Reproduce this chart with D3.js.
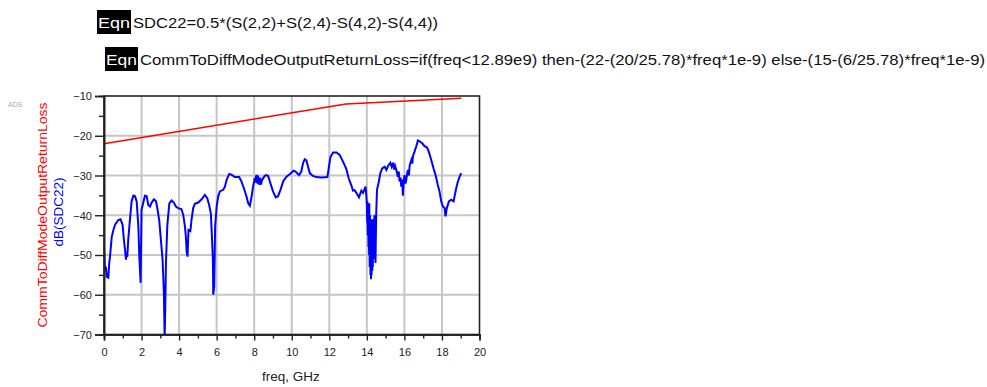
<!DOCTYPE html>
<html>
<head>
<meta charset="utf-8">
<script src="https://cdn.jsdelivr.net/npm/d3@7"></script>
<style>
  html, body { margin: 0; padding: 0; background: #fff; }
  svg { display: block; font-family: "Liberation Sans", Arial, sans-serif; }
</style>
</head>
<body>
<svg id="chart" width="987" height="387"></svg>
<script>
// dB(SDC22) trace as [frequency GHz, magnitude dB]
const sdc22 = [
  [0.00, -47.5], [0.05, -54.0], [0.10, -53.0], [0.15, -55.5], [0.23, -55.7], [0.28, -52.0], [0.32, -50.4],
  [0.41, -45.5], [0.50, -43.7], [0.59, -42.4], [0.76, -41.2], [0.88, -41.0], [0.99, -42.4], [1.06, -46.2],
  [1.12, -48.7], [1.17, -51.2], [1.20, -49.5], [1.24, -50.5], [1.29, -46.2], [1.38, -41.2], [1.47, -36.5],
  [1.56, -35.1], [1.65, -35.2], [1.74, -36.5], [1.83, -42.8], [1.88, -50.4], [1.95, -57.0], [2.00, -38.6],
  [2.06, -37.5], [2.18, -35.1], [2.27, -35.2], [2.36, -37.4], [2.45, -37.8], [2.54, -36.8], [2.66, -36.0],
  [2.77, -36.5], [2.84, -38.2], [2.94, -41.2], [3.03, -46.2], [3.12, -51.2], [3.19, -59.6], [3.23, -71.0],
  [3.26, -64.0], [3.30, -52.0], [3.37, -42.8], [3.42, -40.0], [3.48, -37.0], [3.60, -36.3], [3.72, -36.8],
  [3.83, -37.8], [3.95, -38.2], [4.13, -38.5], [4.22, -39.9], [4.31, -42.8], [4.36, -45.3], [4.40, -49.1],
  [4.45, -50.4], [4.50, -43.7], [4.60, -44.0], [4.66, -41.2], [4.75, -38.2], [4.84, -37.1], [5.02, -36.8],
  [5.20, -36.0], [5.37, -34.9], [5.50, -35.7], [5.60, -37.4], [5.69, -39.5], [5.74, -44.5], [5.80, -51.2],
  [5.82, -60.0], [5.87, -58.0], [5.92, -42.8], [6.00, -37.8], [6.08, -35.3], [6.17, -34.0], [6.35, -33.6],
  [6.44, -32.8], [6.53, -31.1], [6.67, -29.6], [6.79, -29.8], [6.97, -30.4], [7.20, -30.4], [7.32, -31.5],
  [7.45, -33.2], [7.59, -35.3], [7.68, -37.0], [7.77, -37.6], [7.86, -35.3], [7.94, -32.8], [8.03, -30.7],
  [8.06, -31.8], [8.08, -30.6], [8.12, -29.9], [8.15, -31.6], [8.18, -32.0], [8.21, -30.4], [8.25, -30.7],
  [8.28, -32.4], [8.30, -31.2], [8.33, -31.0], [8.37, -32.3], [8.40, -31.4], [8.47, -30.7], [8.55, -30.2],
  [8.62, -29.9], [8.74, -30.1], [8.86, -31.9], [9.00, -34.0], [9.15, -35.5], [9.27, -35.2], [9.40, -33.6],
  [9.54, -31.5], [9.72, -30.3], [9.89, -29.7], [10.10, -28.8], [10.20, -29.0], [10.39, -29.9], [10.51, -29.0],
  [10.60, -26.9], [10.69, -25.9], [10.78, -26.2], [10.87, -27.8], [10.96, -29.4], [11.13, -30.1], [11.31, -30.4],
  [11.58, -30.5], [11.90, -30.4], [11.98, -27.8], [12.06, -25.4], [12.20, -24.2], [12.38, -24.2], [12.55, -24.8],
  [12.73, -26.5], [12.91, -28.4], [13.03, -30.7], [13.17, -32.4], [13.26, -33.8], [13.35, -33.7], [13.47, -34.6],
  [13.58, -35.5], [13.71, -33.8], [13.80, -34.4], [13.93, -32.8], [13.97, -34.9], [14.00, -37.4], [14.02, -42.0],
  [14.03, -36.5], [14.05, -45.0], [14.07, -38.0], [14.09, -48.0], [14.10, -39.0], [14.12, -50.0], [14.13, -37.0],
  [14.15, -53.0], [14.17, -40.0], [14.19, -55.0], [14.20, -42.0], [14.22, -56.1], [14.23, -43.0], [14.25, -55.0],
  [14.27, -41.0], [14.29, -54.0], [14.30, -44.0], [14.32, -53.0], [14.33, -41.0], [14.35, -50.0], [14.37, -43.0],
  [14.39, -51.0], [14.40, -40.0], [14.42, -50.0], [14.44, -42.0], [14.46, -52.0], [14.48, -45.0], [14.50, -39.5],
  [14.54, -33.6], [14.64, -31.5], [14.72, -29.4], [14.82, -28.2], [14.95, -27.8], [15.04, -28.6], [15.13, -27.6],
  [15.25, -26.8], [15.32, -27.8], [15.39, -26.8], [15.45, -28.5], [15.50, -27.5], [15.57, -28.6], [15.65, -30.3],
  [15.70, -29.0], [15.74, -31.5], [15.80, -30.5], [15.83, -32.8], [15.88, -31.0], [15.92, -35.1], [15.96, -31.5],
  [16.01, -29.9], [16.06, -32.0], [16.10, -31.1], [16.15, -29.5], [16.19, -28.6], [16.24, -30.0], [16.28, -27.5],
  [16.37, -26.1], [16.42, -27.0], [16.46, -25.0], [16.54, -24.0], [16.63, -22.7], [16.72, -21.2], [16.81, -21.4],
  [16.95, -21.9], [17.07, -22.6], [17.20, -22.9], [17.30, -24.0], [17.43, -26.1], [17.55, -28.2], [17.66, -29.9],
  [17.78, -32.4], [17.87, -34.0], [17.96, -36.5], [18.05, -37.8], [18.14, -38.2], [18.19, -40.3], [18.26, -38.2],
  [18.37, -36.5], [18.49, -36.1], [18.62, -36.5], [18.67, -35.3], [18.76, -33.2], [18.85, -31.5], [18.94, -30.3],
  [19.03, -29.4]
];

// CommToDiffModeOutputReturnLoss limit line: breakpoints (GHz) and values (dB)
const limitFreq = [0, 12.89, 19.03];
const limitDb = [-22.0, -12.0, -10.57];

// Axis ticks
const xTicks = [0, 2, 4, 6, 8, 10, 12, 14, 16, 18, 20];
const xMinorTicks = [1, 3, 5, 7, 9, 11, 13, 15, 17, 19];
const yTicks = [-10, -20, -30, -40, -50, -60, -70];
const yMinorTicks = [-15, -25, -35, -45, -55, -65];

// Equation blocks above the plot
const eqnLines = [
  "SDC22=0.5*(S(2,2)+S(2,4)-S(4,2)-S(4,4))",
  "CommToDiffModeOutputReturnLoss=if(freq<12.89e9) then-(22-(20/25.78)*freq*1e-9) else-(15-(6/25.78)*freq*1e-9)"
];

const svg = d3.select("#chart");
const plot = { left: 104, top: 96, right: 479.5, bottom: 334.5 };

const x = d3.scaleLinear().domain([0, 20]).range([plot.left, plot.right]);
const y = d3.scaleLinear().domain([-70, -10]).range([plot.bottom, plot.top]);

// Equation boxes
const eqnLayout = [
  { boxX: 97, boxY: 10, boxW: 34, boxH: 24, textX: 133, base: 28, len: 305 },
  { boxX: 105, boxY: 47, boxW: 33, boxH: 24, textX: 140, base: 65, len: 845 }
];
eqnLines.forEach((t, i) => {
  const L = eqnLayout[i];
  svg.append("rect").attr("x", L.boxX).attr("y", L.boxY).attr("width", L.boxW).attr("height", L.boxH).attr("fill", "#000");
  svg.append("text").attr("x", L.boxX + 1).attr("y", L.base).attr("fill", "#fff")
    .attr("font-size", 14).attr("textLength", L.boxW - 2).attr("lengthAdjust", "spacingAndGlyphs").text("Eqn");
  svg.append("text").attr("x", L.textX).attr("y", L.base).attr("fill", "#111")
    .attr("font-size", 14).attr("textLength", L.len).attr("lengthAdjust", "spacingAndGlyphs").text(t);
});

// Tool mark
svg.append("text").attr("x", 8).attr("y", 107).attr("font-size", 7).attr("fill", "#aaa").text("ADS");

// Grid
const grid = svg.append("g").attr("stroke", "#c6c6c6").attr("stroke-width", 2);
grid.selectAll("line.v").data(xTicks.slice(1, -1)).join("line")
  .attr("x1", d => x(d)).attr("x2", d => x(d)).attr("y1", plot.top).attr("y2", plot.bottom);
grid.selectAll("line.h").data(yTicks.slice(1, -1)).join("line")
  .attr("y1", d => y(d)).attr("y2", d => y(d)).attr("x1", plot.left).attr("x2", plot.right);

// Clip region for traces
svg.append("clipPath").attr("id", "plotClip").append("rect")
  .attr("x", plot.left).attr("y", plot.top).attr("width", plot.right - plot.left).attr("height", plot.bottom - plot.top);

const line = d3.line().x(d => x(d[0])).y(d => y(d[1]));

svg.append("path")
  .datum(limitFreq.map((f, i) => [f, limitDb[i]]))
  .attr("d", line).attr("fill", "none").attr("stroke", "#ff0000").attr("stroke-width", 1.6)
  .attr("clip-path", "url(#plotClip)");

svg.append("path")
  .datum(sdc22)
  .attr("d", line).attr("fill", "none").attr("stroke", "#0000ff").attr("stroke-width", 2)
  .attr("stroke-linejoin", "miter").attr("clip-path", "url(#plotClip)");

// Frame
svg.append("rect").attr("x", plot.left).attr("y", plot.top)
  .attr("width", plot.right - plot.left).attr("height", plot.bottom - plot.top)
  .attr("fill", "none").attr("stroke", "#222").attr("stroke-width", 1.6);

// Axes
const xAxis = svg.append("g").attr("transform", `translate(0,${plot.bottom})`)
  .call(d3.axisBottom(x).tickValues(xTicks).tickSize(6).tickFormat(d3.format("d")));
svg.append("g").attr("transform", `translate(0,${plot.bottom})`)
  .call(d3.axisBottom(x).tickValues(xMinorTicks).tickSize(4).tickFormat(""));
const yAxis = svg.append("g").attr("transform", `translate(${plot.left},0)`)
  .call(d3.axisLeft(y).tickValues(yTicks).tickSize(9).tickPadding(3).tickFormat(d3.format("d")));
svg.append("g").attr("transform", `translate(${plot.left},0)`)
  .call(d3.axisLeft(y).tickValues(yMinorTicks).tickSize(5).tickFormat(""));

svg.selectAll(".domain").attr("stroke", "#222").attr("stroke-width", 1.6);
svg.selectAll(".tick line").attr("stroke", "#222").attr("stroke-width", 1.4);
svg.selectAll(".tick text").attr("font-size", 11).attr("fill", "#222")
  .attr("font-family", "'Liberation Sans', Arial, sans-serif");
xAxis.selectAll(".tick text").attr("y", 21).attr("dy", 0);
yAxis.selectAll(".tick text").attr("dy", "0.35em");

// Axis titles
svg.append("text").attr("x", 291).attr("y", 381).attr("text-anchor", "middle")
  .attr("font-size", 13.5).attr("fill", "#222").text("freq, GHz");

svg.append("text").attr("transform", "translate(47,215) rotate(-90)").attr("text-anchor", "middle")
  .attr("font-size", 13.5).attr("fill", "#ff0000")
  .attr("textLength", 225).attr("lengthAdjust", "spacingAndGlyphs").text("CommToDiffModeOutputReturnLoss");
svg.append("text").attr("transform", "translate(63,212) rotate(-90)").attr("text-anchor", "middle")
  .attr("font-size", 13.5).attr("fill", "#0000ff").text("dB(SDC22)");
</script>
</body>
</html>
